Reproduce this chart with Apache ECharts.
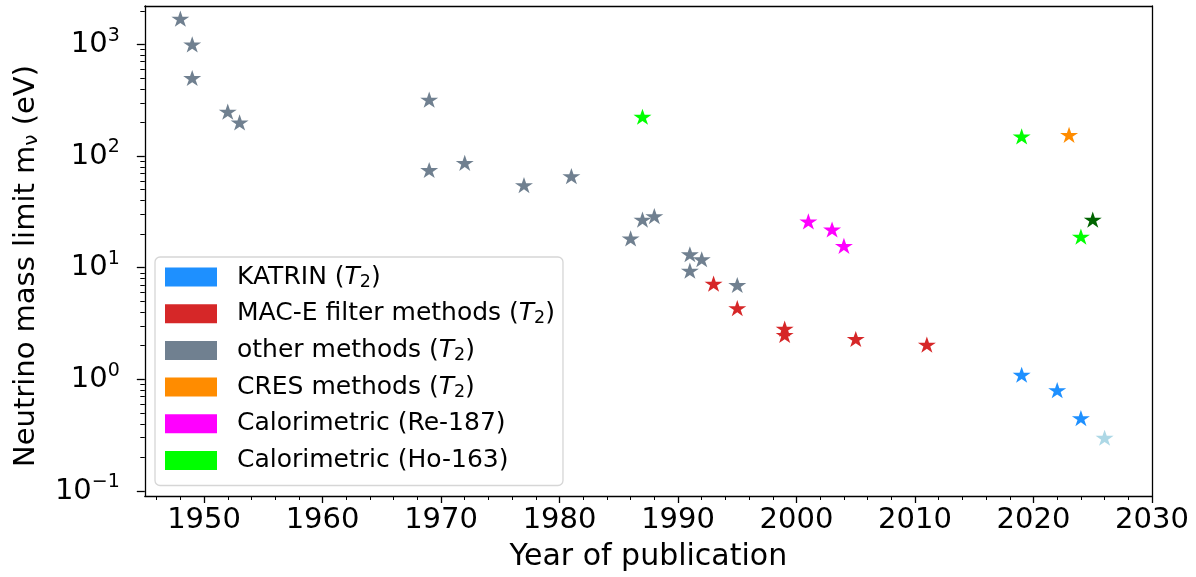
<!DOCTYPE html>
<html><head><meta charset="utf-8">
<script src="https://cdn.jsdelivr.net/npm/echarts@6/dist/echarts.min.js"></script>
<style>html,body{margin:0;padding:0;background:#fff}#c{width:1196px;height:577px}</style>
</head><body><div id="c"></div>
<script>
const FONT = 'DejaVu Sans';

// ---- data ----
const katrinYears = [2019, 2022, 2024];
const katrinLimits = [1.1, 0.8, 0.45];
const macYears = [1993, 1995, 1999, 1999, 2005, 2011];
const macLimits = [7.2, 4.35, 2.85, 2.5, 2.3, 2.05];
const otherYears = [1948, 1949, 1949, 1952, 1953, 1969, 1969, 1972, 1977, 1981, 1986, 1987, 1988, 1991, 1991, 1992, 1995];
const otherLimits = [1700, 1000, 500, 250, 200, 320, 75, 87, 55, 66, 18.3, 27, 29, 13.2, 9.4, 11.9, 7.0];
const cresYears = [2023];
const cresLimits = [155];
const reYears = [2001, 2003, 2004];
const reLimits = [26, 22, 15.7];
const hoYears = [1987, 2019, 2024];
const hoLimits = [225, 150, 19];
const hoFutureYears = [2025];
const hoFutureLimits = [27];
const katrinFinalYears = [2026];
const katrinFinalLimits = [0.3];

const seriesNames = ['KATRIN (T2)', 'MAC-E filter methods (T2)', 'other methods (T2)', 'CRES methods (T2)', 'Calorimetric (Re-187)', 'Calorimetric (Ho-163)'];
const legendLabels = ['KATRIN ({it|T}{sub|2})', 'MAC-E filter methods ({it|T}{sub|2})', 'other methods ({it|T}{sub|2})', 'CRES methods ({it|T}{sub|2})', 'Calorimetric (Re-187)', 'Calorimetric (Ho-163)'];

const xMajorTicks = [1950, 1960, 1970, 1980, 1990, 2000, 2010, 2020, 2030];
const xTickLabels = ['1950', '1960', '1970', '1980', '1990', '2000', '2010', '2020', '2030'];
const xMinorTicks = [];
for (let y = 1946; y <= 2030; y += 2) xMinorTicks.push(y);
const yMajorTicks = [0.1, 1, 10, 100, 1000];
const yTickLabels = ['10{sup|\u22121}', '10{sup|0}', '10{sup|1}', '10{sup|2}', '10{sup|3}'];
const yMinorTicks = [];
[0.1, 1, 10, 100, 1000].forEach(d => { for (let k = 2; k <= 9; k++) yMinorTicks.push(+(d * k).toPrecision(3)); });

// ---- chart ----
const STAR = 'path://M100 0 L122.45 69.1 L195.1 69.1 L136.33 111.8 L158.8 180.9 L100 138.2 L41.2 180.9 L63.67 111.8 L4.9 69.1 L77.55 69.1 Z';
function pairs(xs, ys) { return xs.map((x, i) => [x, ys[i]]); }
function sc(name, color, xs, ys) {
  return {
    type: 'scatter', name: name, data: pairs(xs, ys),
    symbol: STAR, symbolSize: [18, 17], symbolKeepAspect: true,
    itemStyle: { color: color, opacity: 1 }, emphasis: { disabled: true }, z: 3
  };
}
const XMIN = 1945, XMAX = 2030, YMIN = 0.0902, YMAX = 2208;
const black = '#000';
const baseAxis = { splitLine: { show: false }, axisPointer: { show: false } };

const chart = echarts.init(document.getElementById('c'), null, { renderer: 'canvas' });
chart.setOption({
  animation: false,
  backgroundColor: '#fff',
  grid: { left: 143, right: 44, top: 6, bottom: 79, containLabel: false },
  xAxis: [
    Object.assign({}, baseAxis, {
      type: 'value', min: XMIN, max: XMAX, position: 'bottom',
      axisLine: { show: true, lineStyle: { color: black, width: 1.3 } },
      axisTick: { show: true, customValues: xMajorTicks, length: 7, lineStyle: { color: black, width: 1.3 } },
      axisLabel: {
        show: true, customValues: xMajorTicks, margin: 10, color: black, fontSize: 29, fontFamily: FONT,
        formatter: function (v) { const i = xMajorTicks.indexOf(Math.round(v)); return i >= 0 ? xTickLabels[i] : ''; }
      },
      name: 'Year of publication', nameLocation: 'middle', nameGap: 46,
      nameTextStyle: { fontSize: 30, fontFamily: FONT, color: black }
    }),
    Object.assign({}, baseAxis, {
      type: 'value', min: XMIN, max: XMAX, position: 'bottom',
      axisLine: { show: false },
      axisTick: { show: true, customValues: xMinorTicks, length: 4, lineStyle: { color: black, width: 1 } },
      axisLabel: { show: false }
    }),
    Object.assign({}, baseAxis, {
      type: 'value', min: XMIN, max: XMAX, position: 'top',
      axisLine: { show: true, lineStyle: { color: black, width: 1.3 } },
      axisTick: { show: false }, axisLabel: { show: false }
    })
  ],
  yAxis: [
    Object.assign({}, baseAxis, {
      type: 'log', logBase: 10, min: YMIN, max: YMAX, position: 'left',
      axisLine: { show: true, lineStyle: { color: black, width: 1.3 } },
      axisTick: { show: true, customValues: yMajorTicks, length: 8, lineStyle: { color: black, width: 1.3 } },
      minorTick: { show: false },
      axisLabel: {
        show: true, customValues: yMajorTicks, margin: 25, color: black,
        fontSize: 29, fontFamily: FONT, lineHeight: 36,
        formatter: function (v) {
          const e = Math.round(Math.log10(v));
          const idx = yMajorTicks.findIndex(t => Math.round(Math.log10(t)) === e);
          return idx >= 0 ? yTickLabels[idx] : '';
        },
        rich: { sup: { fontSize: 19, fontFamily: FONT, color: black, verticalAlign: 'top', lineHeight: 20 } }
      },
      name: 'Neutrino mass limit m{sub|\u03bd} (eV)', nameLocation: 'middle', nameGap: 100, nameRotate: 90,
      nameTextStyle: {
        fontSize: 29, fontFamily: FONT, color: black, lineHeight: 36, padding: [0, 30, 0, 0],
        rich: { sub: { fontSize: 20, fontFamily: FONT, color: black, verticalAlign: 'top', lineHeight: 36, padding: [14, 0, 0, 0] } }
      }
    }),
    Object.assign({}, baseAxis, {
      type: 'log', logBase: 10, min: YMIN, max: YMAX, position: 'left',
      axisLine: { show: false },
      axisTick: { show: true, customValues: yMinorTicks, length: 4.5, lineStyle: { color: black, width: 1 } },
      axisLabel: { show: false }
    }),
    Object.assign({}, baseAxis, {
      type: 'log', logBase: 10, min: YMIN, max: YMAX, position: 'right',
      axisLine: { show: true, lineStyle: { color: black, width: 1.3 } },
      axisTick: { show: false }, axisLabel: { show: false }
    })
  ],
  legend: {
    data: seriesNames, orient: 'vertical', left: 155, top: 257,
    padding: [6, 8, 11, 10], itemGap: 8.7, itemWidth: 52, itemHeight: 19, icon: 'rect',
    backgroundColor: 'rgba(255,255,255,0.8)', borderColor: '#d6d6d6', borderWidth: 1.3, borderRadius: 5,
    selectedMode: false,
    formatter: function (name) { return '{g|}' + legendLabels[seriesNames.indexOf(name)]; },
    textStyle: {
      fontSize: 25, fontFamily: FONT, color: black, lineHeight: 28,
      rich: {
        g: { width: 15 },
        it: { fontSize: 25, fontFamily: FONT, fontStyle: 'italic', color: black, lineHeight: 28 },
        sub: { fontSize: 17.5, fontFamily: FONT, color: black, verticalAlign: 'top', lineHeight: 28, padding: [10, 0, 0, 0] }
      }
    }
  },
  series: [
    sc(seriesNames[2], '#708090', otherYears, otherLimits),
    sc(seriesNames[1], '#d62728', macYears, macLimits),
    sc(seriesNames[0], '#1e90ff', katrinYears, katrinLimits),
    sc('KATRIN final', '#add8e6', katrinFinalYears, katrinFinalLimits),
    sc(seriesNames[3], '#ff8c00', cresYears, cresLimits),
    sc(seriesNames[4], '#ff00ff', reYears, reLimits),
    sc(seriesNames[5], '#00ff00', hoYears, hoLimits),
    sc('Ho-163 future', '#006400', hoFutureYears, hoFutureLimits)
  ]
});
</script>
</body></html>
